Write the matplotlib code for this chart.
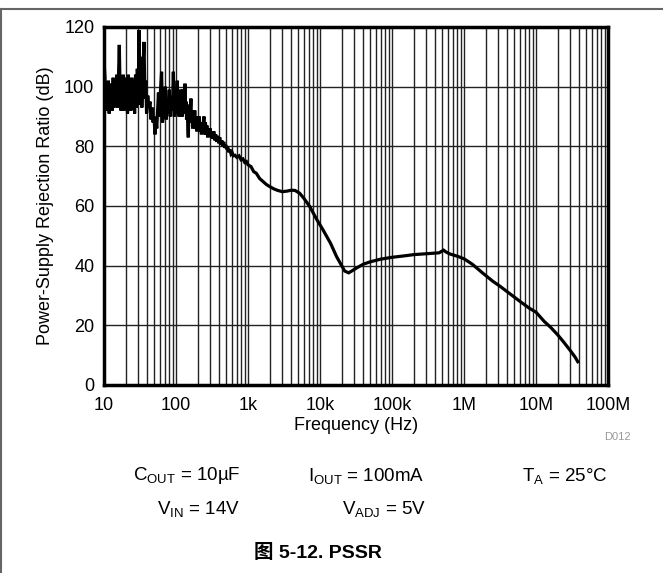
import numpy as np
import matplotlib
matplotlib.use("Agg")
import matplotlib.pyplot as plt
from matplotlib.ticker import FixedLocator, FixedFormatter, LogLocator, NullFormatter
from matplotlib.lines import Line2D

plt.rcParams['font.family'] = ['Liberation Sans', 'Noto Sans CJK SC', 'DejaVu Sans']
plt.rcParams['mathtext.fontset'] = 'custom'
plt.rcParams['mathtext.rm'] = 'Liberation Sans'
plt.rcParams['mathtext.default'] = 'rm'

# noisy low-frequency part (Hz, dB)
noisy_freq = [10, 10.3, 10.6, 10.9, 11.2, 11.5, 11.8, 12.1, 12.4, 12.7, 13.0, 13.4,
              13.8, 14.2, 14.6, 15.0, 15.5, 16.3, 16.8, 17.2, 17.6, 18.0, 18.5, 19.0,
              19.5, 20.0, 20.6, 21.2, 21.8, 22.4, 23.0, 23.6, 24.3, 25.0, 25.8, 26.6,
              27.4, 28.2, 29.0, 30.0, 30.6, 31.5, 32.5, 33.5, 34.5, 35.9, 37.0, 38.0,
              39.0, 40.5, 42.0, 43.5, 45.0, 46.5, 48.0, 49.5, 51.0, 52.5, 54.0, 55.5,
              57.0, 58.5, 60.0, 63.0, 65.0, 67.0, 69.0, 71.0, 73.0, 75.5, 78.0, 80.5,
              83.0, 86.0, 89.0, 91.8, 94.5, 97.5,
              100, 102, 104, 106, 108, 110, 112, 114, 116, 118, 120, 122,
              125, 127, 129, 131, 133, 135, 138, 140, 143, 146, 148, 150,
              153, 156, 158, 161, 164, 167, 170, 174, 178, 182, 186, 190,
              195, 200, 205, 210, 215, 220, 225, 230, 236, 241, 245, 250,
              256, 262, 268, 275, 282, 290, 298, 306, 315, 325, 335, 345,
              355, 367, 380, 392, 405, 418, 432, 446, 460, 475, 490, 505,
              520, 540, 560, 580, 600, 625]
noisy_db = [109, 103, 94, 99, 92, 102, 91, 101, 93, 100, 92, 103,
            93, 101, 95, 104, 93, 114, 96, 92, 102, 93, 104, 92,
            101, 94, 103, 91, 104, 93, 100, 92, 103, 95, 99, 91,
            104, 93, 106, 94, 119, 95, 110, 93, 104, 115, 96, 102,
            91, 97, 93, 95, 89, 93, 88, 90, 84, 89, 86, 92,
            98, 90, 96, 105, 88, 97, 90, 100, 89, 96, 91, 99,
            90, 95, 92, 105, 90, 97,
            97, 91, 102, 92, 97, 90, 96, 91, 99, 92, 95, 90,
            99, 92, 97, 91, 101, 92, 95, 89, 94, 86, 83, 89,
            93, 88, 92, 96, 88, 92, 86, 91, 87, 92, 86, 90,
            85, 89, 86, 90, 85, 88, 84, 87, 85, 89, 90, 84,
            88, 84, 87, 83, 86, 84, 86, 83, 85, 82.5, 85, 82,
            84, 81.5, 83.5, 81, 83, 80.5, 82, 80, 81.5, 79.5, 80.5, 79,
            80, 78, 79, 77.5, 78, 76.8]

# smooth high-frequency part (Hz, dB)
smooth_freq = [660, 700, 750, 800, 850, 900, 950, 1e3, 1.1e3, 1.2e3, 1.3e3, 1.45e3,
               1.6e3, 1.8e3, 2e3, 2.3e3, 2.6e3, 3e3, 3.5e3, 4e3, 4.5e3, 5.2e3,
               6e3, 7.2e3, 9e3, 11e3, 14e3, 17e3, 20e3, 22e3, 25e3, 28e3, 32e3, 40e3,
               50e3, 70e3, 100e3, 150e3, 200e3, 300e3, 450e3, 520e3, 560e3, 640e3,
               800e3, 1e6, 1.3e6, 1.8e6, 2.5e6, 3.2e6, 4.5e6, 6e6, 8e6, 10e6, 13e6,
               16e6, 20e6, 24e6, 30e6, 35e6, 38e6]
smooth_db = [77, 76.3, 76.8, 75.5, 75.8, 74.6, 74.9, 73.8, 73.2, 71.5, 71, 69.2,
             68.3, 67.2, 66.5, 65.7, 65.2, 64.8, 65.0, 65.3, 65.2, 64.3,
             62.5, 59.8, 55.5, 52, 47.5, 43, 40, 38.2, 37.6, 38.3, 39.2, 40.5,
             41.3, 42.2, 42.8, 43.3, 43.7, 44.0, 44.3, 45.2, 44.6, 43.9,
             43.2, 42.3, 40.5, 37.6, 34.8, 33, 30.3, 28, 25.8, 24.4, 21.3,
             19.3, 16.8, 14.5, 11.5, 9.3, 7.8]

freq = noisy_freq + smooth_freq
pssr = noisy_db + smooth_db

x_ticks = [10, 100, 1e3, 1e4, 1e5, 1e6, 1e7, 1e8]
x_labels = ['10', '100', '1k', '10k', '100k', '1M', '10M', '100M']
y_ticks = [0, 20, 40, 60, 80, 100, 120]

fig = plt.figure(figsize=(6.63, 5.73), dpi=100)
ax = fig.add_axes([0.1569, 0.3281, 0.7602, 0.6248])

ax.plot(freq, pssr, color='black', lw=2.3, solid_joinstyle='miter', zorder=3)

ax.set_xscale('log')
ax.set_xlim(10, 1e8)
ax.set_ylim(0, 120)
ax.xaxis.set_major_locator(FixedLocator(x_ticks))
ax.xaxis.set_major_formatter(FixedFormatter(x_labels))
ax.xaxis.set_minor_locator(LogLocator(base=10, subs=np.arange(2, 10), numticks=20))
ax.xaxis.set_minor_formatter(NullFormatter())
ax.set_yticks(y_ticks)

ax.grid(True, which='major', axis='both', color='#222222', lw=1.0)
ax.grid(True, which='minor', axis='x', color='#222222', lw=1.0)
ax.tick_params(which='both', length=0)
ax.tick_params(axis='x', pad=9, labelsize=13)
ax.tick_params(axis='y', pad=7, labelsize=13)
for s in ax.spines.values():
    s.set_linewidth(2.5)

ax.set_xlabel('Frequency (Hz)', fontsize=13, labelpad=2)
ax.set_ylabel('Power-Supply Rejection Ratio (dB)', fontsize=13, labelpad=7)

fig.text(617 / 663, 1 - 437 / 573, 'D012', fontsize=8, color='#999999', ha='center', va='center')

fs = 13.5
fig.text(133 / 663, 1 - 476 / 573, r'C$_{\rm OUT}$ = 10µF', fontsize=fs, ha='left', va='center')
fig.text(240 / 663, 1 - 509 / 573, r'V$_{\rm IN}$ = 14V', fontsize=fs, ha='right', va='center')
fig.text(366 / 663, 1 - 476 / 573, r'I$_{\rm OUT}$ = 100mA', fontsize=fs, ha='center', va='center')
fig.text(426 / 663, 1 - 509 / 573, r'V$_{\rm ADJ}$ = 5V', fontsize=fs, ha='right', va='center')
fig.text(565 / 663, 1 - 476 / 573, r'T$_{\rm A}$ = 25°C', fontsize=fs, ha='center', va='center')

fig.text(318 / 663, 1 - 553 / 573, '图 5-12. PSSR', fontsize=14, fontweight='bold',
         ha='center', va='center')

# frame around figure
fig.add_artist(Line2D([0, 1], [1 - 9 / 573, 1 - 9 / 573], transform=fig.transFigure,
                      color='#666666', lw=1.5))
fig.add_artist(Line2D([0.0015, 0.0015], [0, 1 - 9 / 573], transform=fig.transFigure,
                      color='#666666', lw=1.5))

fig.savefig('out.png', dpi=100)
